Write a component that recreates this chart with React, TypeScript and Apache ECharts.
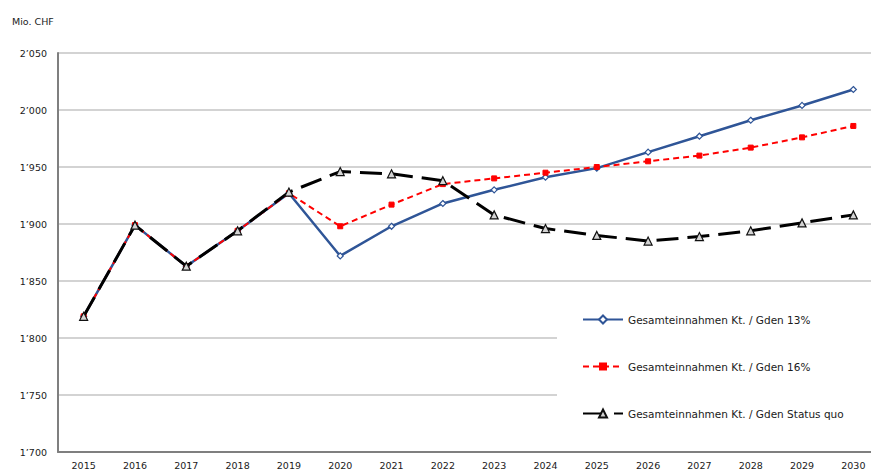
import React, { useEffect, useRef } from "react";
import * as echarts from "echarts";

const years = ["2015","2016","2017","2018","2019","2020","2021","2022","2023","2024","2025","2026","2027","2028","2029","2030"];
const seriesNames = [
  "Gesamteinnahmen Kt. / Gden 13%",
  "Gesamteinnahmen Kt. / Gden 16%",
  "Gesamteinnahmen Kt. / Gden Status quo",
];
const gden13 = [1819, 1899, 1863, 1894, 1927, 1872, 1898, 1918, 1930, 1941, 1949, 1963, 1977, 1991, 2004, 2018];
const gden16 = [1819, 1899, 1863, 1894, 1927, 1898, 1917, 1935, 1940, 1945, 1950, 1955, 1960, 1967, 1976, 1986];
const statusQuo = [1819, 1899, 1863, 1894, 1928, 1946, 1944, 1938, 1908, 1896, 1890, 1885, 1889, 1894, 1901, 1908];
const yMin = 1700;
const yMax = 2050;
const yStep = 50;
const unitLabel = "Mio. CHF";

const fmt = (v: number) => {
  const s = String(Math.round(v));
  return s.length > 3 ? s.slice(0, s.length - 3) + "\u2019" + s.slice(-3) : s;
};

export default function App() {
  const ref = useRef<HTMLDivElement>(null);
  useEffect(() => {
    if (!ref.current) return;
    const chart = echarts.init(ref.current, undefined, { renderer: "svg" });
    const font = "'DejaVu Sans', 'Noto Sans', sans-serif";
    chart.setOption({
      animation: false,
      backgroundColor: "#ffffff",
      textStyle: { fontFamily: font },
      title: {
        text: unitLabel,
        left: 7,
        top: 11,
        textStyle: { fontSize: 9.5, fontWeight: "normal", color: "#222", fontFamily: font },
      },
      grid: {
        left: 58,
        top: 53,
        width: 821,
        height: 399,
        containLabel: false,
        outerBoundsMode: "none",
      },
      xAxis: {
        type: "category",
        data: years,
        boundaryGap: true,
        axisTick: { show: false },
        axisLine: { show: true, lineStyle: { color: "#7f7f7f", width: 2 } },
        axisLabel: { color: "#1a1a1a", fontSize: 9.5, fontWeight: "normal", margin: 8, fontFamily: font },
        splitLine: { show: false },
      },
      yAxis: {
        type: "value",
        min: yMin,
        max: yMax,
        interval: yStep,
        axisLine: { show: true, lineStyle: { color: "#7f7f7f", width: 2 } },
        axisTick: { show: false },
        axisLabel: { color: "#1a1a1a", fontSize: 9.5, margin: 11, formatter: fmt, fontFamily: font },
        splitLine: { show: true, lineStyle: { color: "#c4c4c4", width: 1.5 } },
      },
      legend: {
        orient: "vertical",
        left: 577,
        top: 309,
        itemWidth: 40,
        itemHeight: 10,
        itemGap: 36,
        textStyle: { fontSize: 10.5, color: "#1a1a1a", fontFamily: font },
        data: seriesNames,
      },
      graphic: [
        {
          type: "rect",
          z: 3,
          shape: { x: 557, y: 288, width: 320, height: 159 },
          style: { fill: "#ffffff" },
        },
      ],
      series: [
        {
          name: seriesNames[0],
          type: "line",
          data: gden13,
          symbol: "diamond",
          symbolSize: 6,
          z: 2,
          lineStyle: { color: "#2f5597", width: 2.5 },
          itemStyle: { color: "#ffffff", borderColor: "#2f5597", borderWidth: 1.2 },
        },
        {
          name: seriesNames[1],
          type: "line",
          data: gden16,
          symbol: "rect",
          symbolSize: 5,
          z: 3,
          lineStyle: { color: "#ff0000", width: 2, type: [6, 4] },
          itemStyle: { color: "#ff0000", borderColor: "#ff0000" },
        },
        {
          name: seriesNames[2],
          type: "line",
          data: statusQuo,
          symbol: "triangle",
          symbolSize: 8,
          z: 4,
          lineStyle: { color: "#000000", width: 3, type: [22, 9] },
          itemStyle: { color: "#d4d4d4", borderColor: "#111", borderWidth: 1.2 },
        },
      ],
    });
    return () => chart.dispose();
  }, []);
  return (
    <div
      ref={ref}
      style={{ position: "fixed", left: 0, top: 0, width: 871, height: 474 }}
    />
  );
}
